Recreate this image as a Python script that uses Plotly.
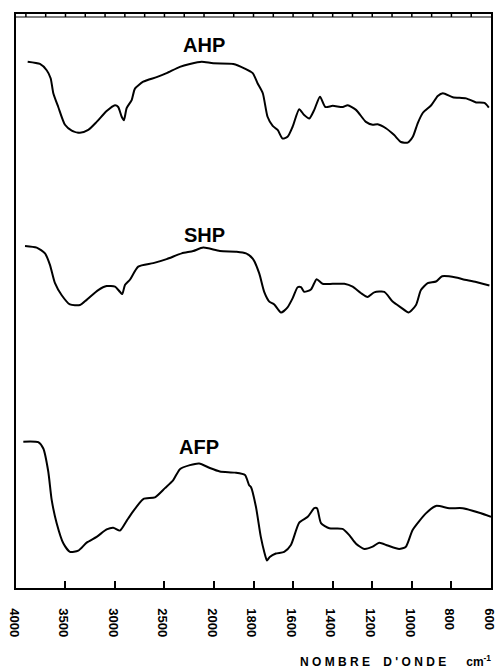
import numpy as np
import plotly.graph_objects as go

# Infrared spectra, wavenumber (cm-1) vs transmittance (arbitrary, 0-100 frame units)
ahp_wn = [3882, 3758, 3690, 3650, 3623, 3573, 3505, 3437, 3354, 3270, 3185, 3084, 3000, 2967,
          2932, 2909, 2882, 2831, 2798, 2714, 2579, 2478, 2344, 2243, 2124, 2007, 1902, 1844,
          1804, 1779, 1753, 1729, 1703, 1678, 1653, 1628, 1602, 1569, 1544, 1518, 1493, 1464,
          1437, 1400, 1349, 1324, 1282, 1232, 1198, 1173, 1131, 1089, 1055, 1021, 995, 970,
          944, 902, 869, 843, 793, 726, 675, 633, 611]
ahp_t = [91.7, 91.3, 90.2, 88.8, 86.2, 83.8, 80.7, 79.7, 79.3, 79.8, 81.2, 83.1, 84.1, 83.8,
         82.1, 81.5, 83.6, 85.0, 87.0, 88.2, 89.0, 89.7, 90.8, 91.3, 91.7, 91.4, 91.3, 90.5,
         89.7, 87.9, 86.2, 82.1, 80.5, 79.8, 78.3, 78.6, 80.4, 83.4, 82.4, 81.8, 83.3, 85.6,
         83.8, 84.0, 83.8, 84.1, 83.3, 81.2, 80.7, 80.8, 80.1, 78.9, 77.7, 77.6, 78.6, 81.0,
         82.8, 84.1, 85.7, 86.2, 85.5, 85.3, 84.6, 84.5, 83.7]

shp_wn = [3909, 3791, 3707, 3657, 3606, 3538, 3455, 3354, 3286, 3169, 3084, 3000, 2950, 2926,
          2899, 2849, 2765, 2613, 2478, 2326, 2209, 2108, 1970, 1885, 1838, 1804, 1771, 1746,
          1720, 1695, 1661, 1628, 1602, 1577, 1560, 1544, 1510, 1481, 1451, 1400, 1341, 1299,
          1258, 1223, 1190, 1139, 1097, 1056, 1016, 979, 954, 920, 878, 847, 777, 743, 675, 608]
shp_t = [59.6, 59.3, 58.3, 56.3, 53.1, 51.0, 49.4, 49.3, 50.2, 51.9, 52.6, 52.5, 51.6, 51.2,
         52.8, 53.7, 56.0, 56.6, 57.3, 58.3, 58.7, 59.3, 58.7, 58.6, 58.3, 57.4, 54.8, 51.6,
         49.9, 49.4, 48.0, 48.9, 50.5, 52.4, 52.4, 51.6, 52.0, 53.8, 53.0, 53.0, 53.0, 52.5,
         51.4, 50.7, 51.5, 51.6, 49.9, 48.9, 48.0, 49.3, 51.9, 53.1, 53.4, 54.3, 54.1, 53.8,
         53.3, 52.7]

afp_wn = [3926, 3775, 3724, 3674, 3639, 3589, 3522, 3455, 3371, 3286, 3185, 3084, 3017, 2950,
          2882, 2831, 2714, 2596, 2495, 2411, 2344, 2243, 2149, 2041, 1970, 1894, 1843, 1822,
          1813, 1788, 1763, 1745, 1732, 1718, 1687, 1645, 1611, 1569, 1526, 1493, 1479, 1459,
          1417, 1350, 1316, 1282, 1240, 1198, 1165, 1122, 1064, 1030, 996, 929, 878, 811, 743,
          659, 600]
afp_t = [25.5, 25.4, 24.3, 20.3, 15.3, 11.3, 7.8, 6.3, 6.5, 7.9, 8.9, 10.2, 10.5, 10.0,
         11.7, 13.0, 15.5, 15.8, 17.4, 18.8, 20.7, 21.4, 21.7, 20.9, 20.3, 20.1, 19.7, 17.9,
         17.6, 14.2, 8.9, 6.2, 4.8, 5.4, 6.0, 6.3, 7.5, 11.4, 12.4, 13.9, 13.9, 11.3,
         10.4, 10.3, 9.2, 7.7, 6.8, 7.2, 7.9, 7.4, 6.8, 7.2, 10.1, 13.0, 14.3, 13.9, 13.9,
         13.1, 12.4]

tick_wn = [4000, 3500, 3000, 2500, 2000, 1800, 1600, 1400, 1200, 1000, 800, 600]
sample_names = ["AHP", "SHP", "AFP"]
name_pos = [(2100, 94.6), (2100, 61.5), (2150, 24.6)]


def to_u(w):
    """Chart scale: 4000-2000 cm-1 at half the scale of 2000-600 cm-1."""
    w = np.asarray(w, dtype=float)
    return np.where(w >= 2000, (4000 - w) / 2.0, 1000 + (2000 - w))


fig = go.Figure()
for wn, tr in [(ahp_wn, ahp_t), (shp_wn, shp_t), (afp_wn, afp_t)]:
    fig.add_trace(go.Scatter(
        x=to_u(wn), y=tr, mode="lines",
        line=dict(color="black", width=2, shape="spline", smoothing=0.6),
        showlegend=False, hoverinfo="skip"))

for name, (w, t) in zip(sample_names, name_pos):
    fig.add_annotation(x=float(to_u(w)), y=t, xref="x", yref="y", text=f"<b>{name}</b>",
                       showarrow=False,
                       font=dict(family="Liberation Sans, Arial", size=20, color="black"))

# axis caption
fig.add_annotation(x=1.005, y=-0.128, xref="paper", yref="paper", xanchor="right",
                   yanchor="middle", showarrow=False,
                   text="<b>N O M B R E &nbsp;&nbsp; D ' O N D E &nbsp;&nbsp;&nbsp;&nbsp; cm<sup>-1</sup></b>",
                   font=dict(family="Liberation Sans, Arial", size=12, color="black"))

# double top edge of the chart paper with ruler marks
fig.add_shape(type="line", xref="paper", yref="paper", x0=0, x1=1, y0=0.9948, y1=0.9948,
              line=dict(color="black", width=1.2))
for w in list(range(3900, 2000, -200)) + list(range(1900, 600, -100)):
    u = float(to_u(w))
    fig.add_shape(type="line", xref="x", yref="paper", x0=u, x1=u, y0=0.9948, y1=1.0,
                  line=dict(color="black", width=1.5))

fig.update_xaxes(
    range=[0, 2400], tickvals=to_u(tick_wn), ticktext=[str(t) for t in tick_wn],
    tickangle=90, ticks="inside", ticklen=7, tickwidth=1.5, tickcolor="black",
    showline=True, linecolor="black", linewidth=1.5, mirror=True, automargin=False,
    showgrid=False, zeroline=False, ticklabelstandoff=16, ticklabelshift=-2,
    ticklabeloverflow="allow",
    tickfont=dict(family="Liberation Sans, Arial", size=13, color="black", weight="bold"))
fig.update_yaxes(
    range=[0, 100], showticklabels=False, ticks="", showline=True, linecolor="black",
    linewidth=1.5, mirror=True, showgrid=False, zeroline=False, automargin=False)

fig.update_layout(
    width=496, height=668, margin=dict(l=16, r=5, t=14, b=80, autoexpand=False),
    plot_bgcolor="white", paper_bgcolor="white")

fig.write_html("out.html")
